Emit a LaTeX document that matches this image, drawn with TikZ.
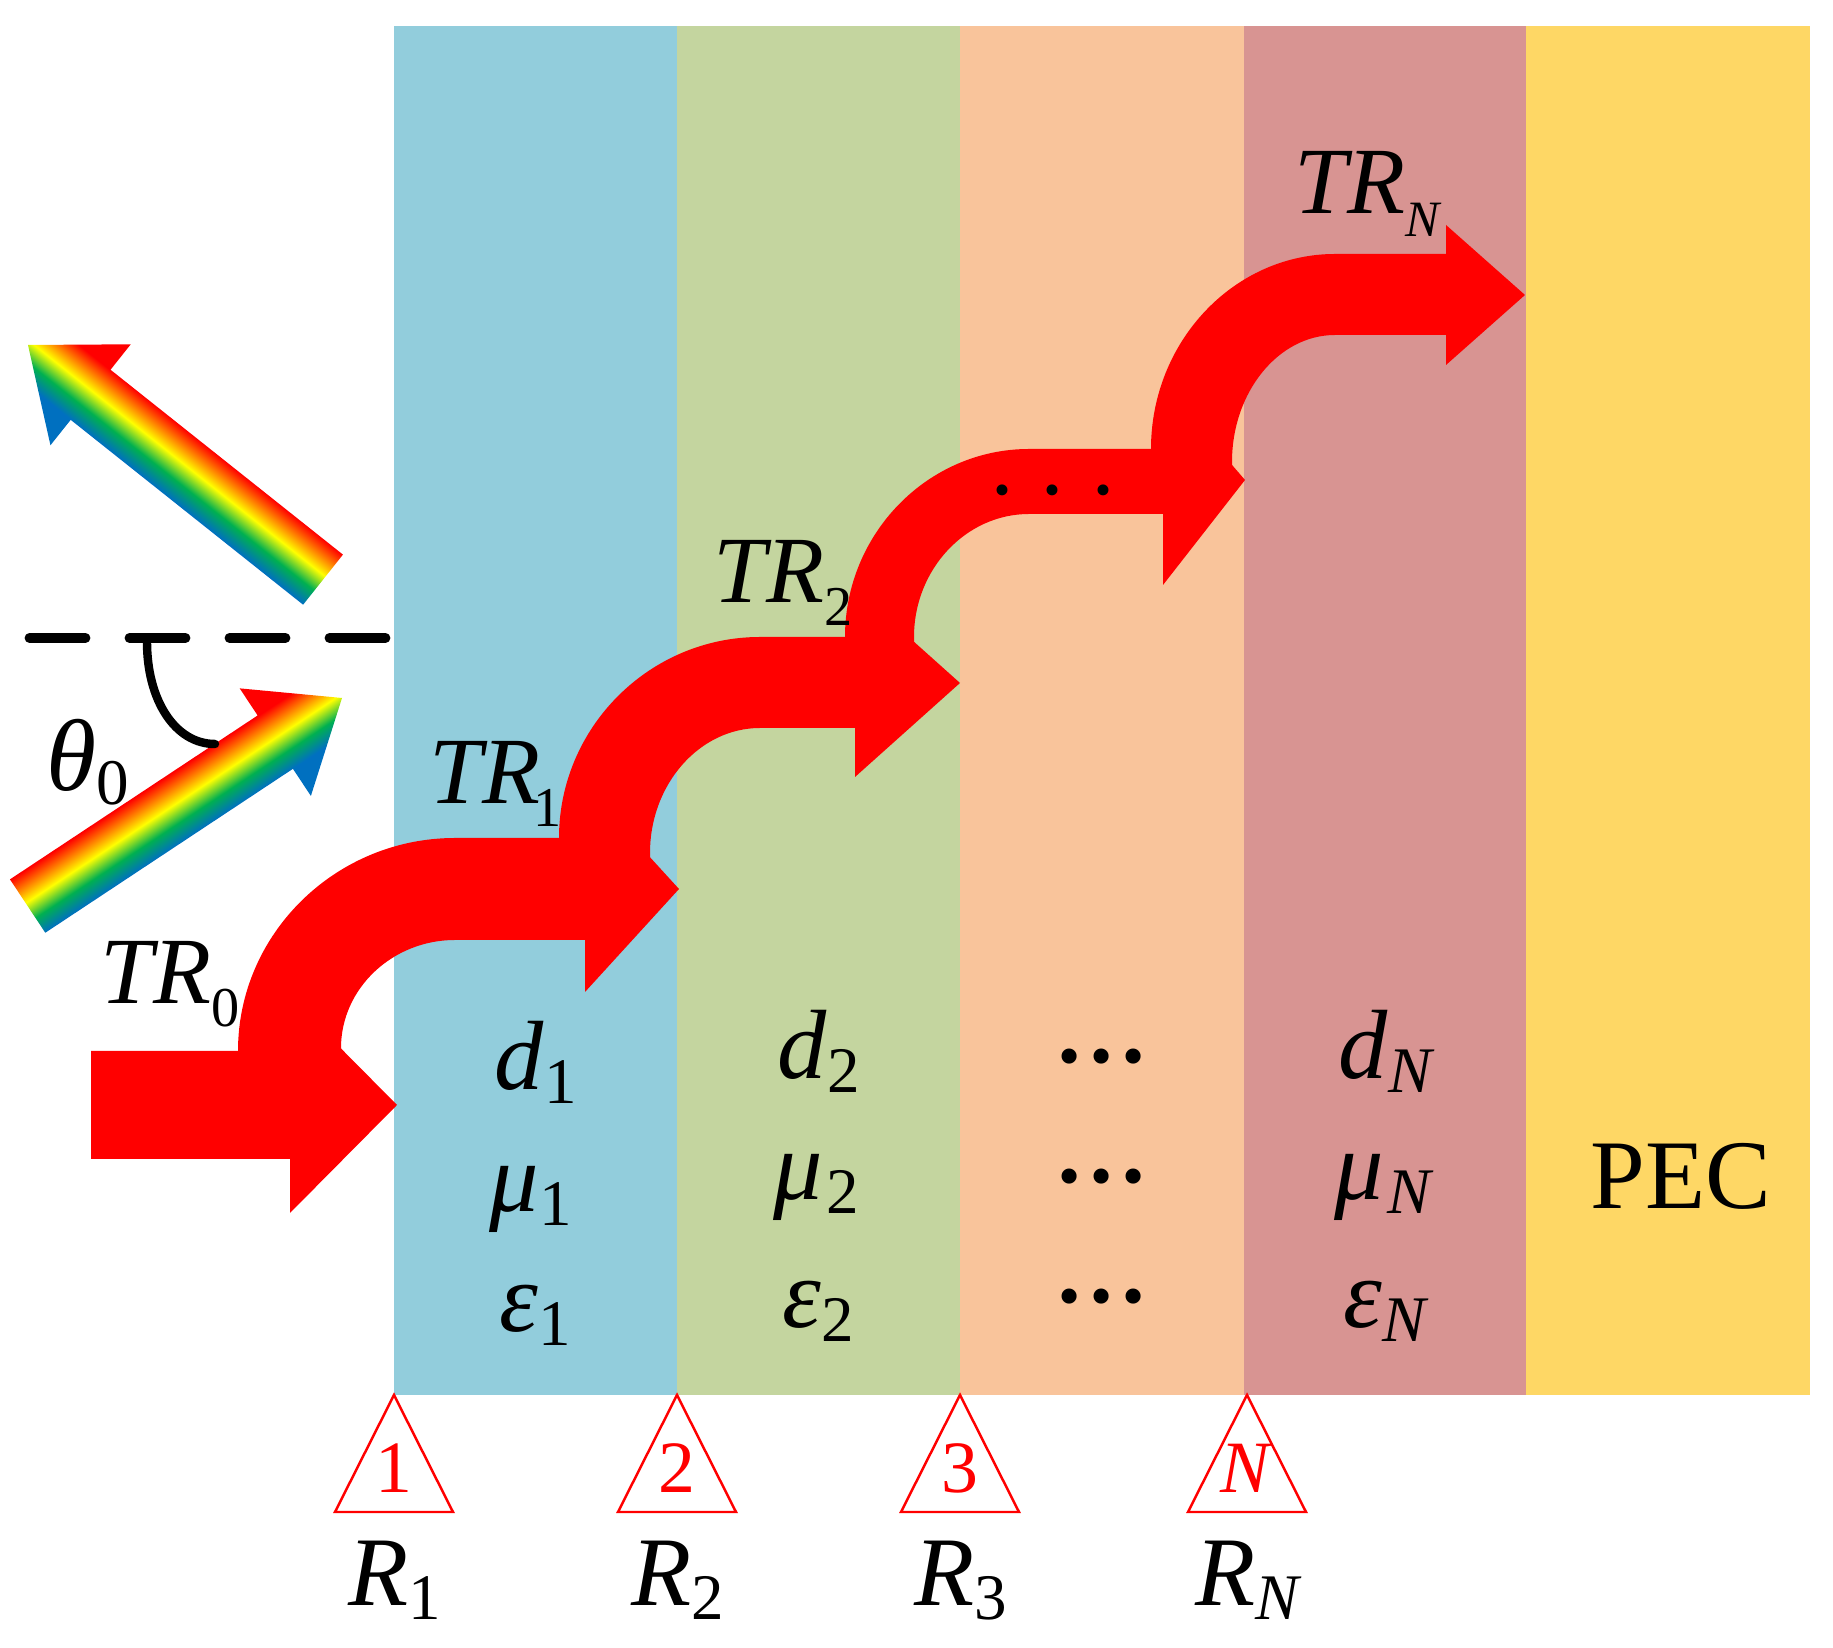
\documentclass[tikz,border=0pt]{standalone}
\usepackage{fontspec}
\setmainfont{Liberation Serif}

\definecolor{layerone}{HTML}{92CDDC}
\definecolor{layertwo}{HTML}{C4D59F}
\definecolor{layerthree}{HTML}{F9C49B}
\definecolor{layerfour}{HTML}{D89492}
\definecolor{layerpec}{HTML}{FED765}
\definecolor{bandblue}{HTML}{0070C0}
\definecolor{bandgreen}{HTML}{00B050}
\definecolor{bandyellow}{HTML}{FFFF00}

\pgfdeclareverticalshading{rainbowband}{100bp}{
  color(0bp)=(bandblue); color(37.7bp)=(bandblue); color(44.6bp)=(bandgreen);
  color(51.5bp)=(bandyellow); color(62.3bp)=(red); color(100bp)=(red)}

\newcommand{\lab}[2]{\textit{#1}\raisebox{-0.14em}{\fontsize{18.5}{18.5}\selectfont #2}}
\newcommand{\trlab}[2][16]{{\fontsize{27}{27}\selectfont\textit{TR}\raisebox{-0.24em}{\fontsize{#1}{#1}\selectfont #2}}}
\newcommand{\threedots}[1]{•\kern#1•\kern#1•}

\tikzset{
  lab/.style={inner sep=0pt, anchor=base west, font=\fontsize{28}{28}\selectfont},
  trilab/.style={inner sep=0pt, anchor=base, text=red, font=\fontsize{21}{21}\selectfont},
  rowdots/.style={inner sep=0pt, font=\fontsize{18}{18}\selectfont},
}

\begin{document}
\begin{tikzpicture}[x=0.1mm, y=-0.1mm]
  \useasboundingbox (0, 0) rectangle (1833, 1648);

  % Layers
  \fill[layerone] (394, 26) rectangle (677, 1395);
  \fill[layertwo] (677, 26) rectangle (960, 1395);
  \fill[layerthree] (960, 26) rectangle (1244, 1395);
  \fill[layerfour] (1244, 26) rectangle (1526, 1395);
  \fill[layerpec] (1526, 26) rectangle (1810, 1395);

  % Incident and reflected waves
  \foreach \tipx/\tipy/\ang/\dir in {342/698/33.5/-1, 28/345/-38.5/1} {
    \begin{scope}[transform canvas={shift={(\tipx, \tipy)}, rotate=\ang}]
      \shade[shading=rainbowband] (0, 0) -- (\dir*80, -64.5) -- (\dir*80, -32)
        -- (\dir*377, -32) -- (\dir*377, 32) -- (\dir*80, 32) -- (\dir*80, 64.5) -- cycle;
    \end{scope}
  }

  % Normal and angle
  \draw[line width=2.8pt, line cap=round, dash pattern=on 5.6mm off 4.4mm] (29.5, 638) -- (385.5, 638);
  \draw[line width=2.4pt, line cap=round] (147, 642) .. controls (147, 700) and (175, 744) .. (215, 744);
  \node[lab] (theta) at (46, 791) {\textit{\fontsize{29}{29}\selectfont θ}\raisebox{-0.14em}{\fontsize{18.5}{18.5}\selectfont 0}};

  % Straight arrow in front of the first interface
  \fill[red] (91, 1051) -- (290, 1051) -- (290, 997) -- (397, 1105) -- (290, 1213) -- (290, 1159) -- (91, 1159) -- cycle;

  % Bent arrows across the layers
  \foreach \ox/\oy/\ix/\iy/\tx/\oty/\ity/\hx/\tipx/\tipy/\hu/\hl in {
    238/1051/341/1048/455/838/940/585/679/889/103/103,
    559/838/650/853/760/637/728/855/960/683/94/94,
    845/637/914/637/1029/449/514/1163/1245/480/95/105,
    1151/449/1232/462/1335/254/335/1446/1525/295/70/70} {
    \fill[red] (\ox, \oy) .. controls (\ox, {\oy-0.55*(\oy-\oty)}) and ({\tx-0.55*(\tx-\ox)}, \oty) .. (\tx, \oty)
      -- (\hx, \oty) -- (\hx, \tipy-\hu) -- (\tipx, \tipy) -- (\hx, \tipy+\hl) -- (\hx, \ity) -- (\tx, \ity)
      .. controls ({\tx-0.55*(\tx-\ix)}, \ity) and (\ix, {\iy-0.55*(\iy-\ity)}) .. (\ix, \iy)
      -- (\ix, \iy+6) -- (\ox, \oy+6) -- cycle;
  }
  \node[rowdots, font=\fontsize{13}{13}\selectfont] (arrowdots) at (1053, 495) {\threedots{9.7pt}};

  % Arrow labels
  \node[lab] (tr0) at (100, 1004) {\trlab{0}};
  \node[lab] (tr1) at (429, 804) {\trlab{\kern-2pt 1}};
  \node[lab] (tr2) at (713, 603) {\trlab{2}};
  \node[lab] (trn) at (1294, 214) {\trlab[14.5]{\textit{N}}};

  % Layer parameters
  \node[lab] (d1) at (494, 1090) {\lab{d}{1}};
  \node[lab] (mu1) at (489, 1212) {\lab{μ}{1}};
  \node[lab] (eps1) at (499, 1332) {\lab{ε}{1}};
  \node[lab] (d2) at (777, 1079) {\lab{d}{2}};
  \node[lab] (mu2) at (773, 1200) {\lab{μ\kern1pt}{2}};
  \node[lab] (eps2) at (782, 1328) {\lab{ε}{2}};
  \node[lab] (dn) at (1338, 1079) {\lab{d}{\textit{N}}};
  \node[lab] (mun) at (1334, 1200) {\lab{μ\kern1pt}{\textit{N}}};
  \node[lab] (epsn) at (1343, 1328) {\lab{ε}{\textit{N}}};
  \node[rowdots] (dotsd) at (1102, 1063) {\threedots{2.8pt}};
  \node[rowdots] (dotsmu) at (1102, 1183) {\threedots{2.8pt}};
  \node[rowdots] (dotseps) at (1102, 1303) {\threedots{2.8pt}};
  \node[lab] (pec) at (1590, 1209) {PEC};

  % Reference planes
  \foreach \px/\ptext/\rx/\rname/\rsub in {394/1/348/r1/1, 677/2/631/r2/2, 960/3/914/r3/3, 1247/\textit{N}/1195/rn/\textit{N}} {
    \draw[red, line width=0.7pt] (\px, 1395) -- (\px-59, 1512) -- (\px+59, 1512) -- cycle;
    \node[trilab] (t\rname) at (\px, 1493) {\ptext};
    \node[lab] (\rname) at (\rx, 1606) {\lab{R}{\rsub}};
  }
\end{tikzpicture}
\end{document}
